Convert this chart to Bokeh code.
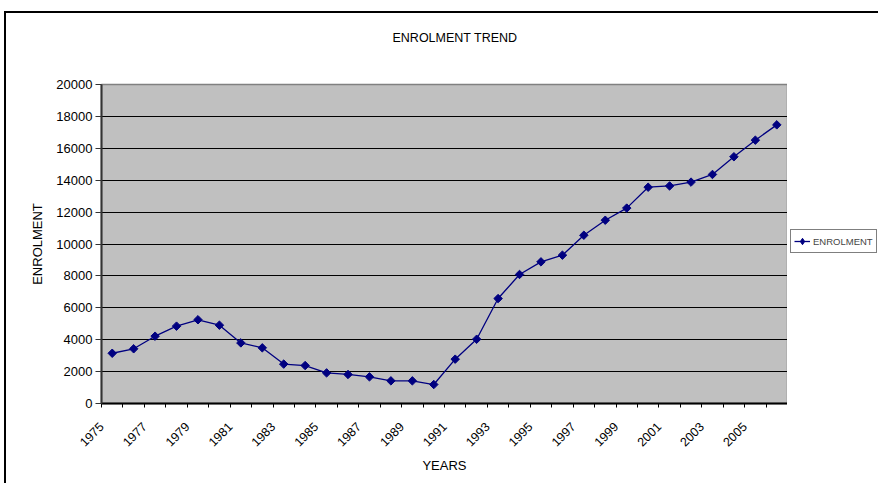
import math
from bokeh.plotting import figure
from bokeh.layouts import row
from bokeh.models import FixedTicker, Legend, LegendItem, Range1d, Title
from bokeh.embed import file_html
from bokeh.resources import INLINE

years = list(range(1975, 2007))
enrolment = [3150, 3430, 4220, 4850, 5250, 4910, 3800, 3490, 2470, 2380,
             1920, 1820, 1670, 1420, 1420, 1190, 2780, 4030, 6580, 8090,
             8880, 9300, 10550, 11490, 12250, 13560, 13640, 13880, 14360,
             15470, 16510, 17470]
y_ticks = list(range(0, 20001, 2000))
label_years = years[::2]
series_name = "ENROLMENT"
chart_title = "ENROLMENT TREND"

FONT = "Liberation Sans"
LINE_COLOR = "#000080"
xs = list(range(len(years)))

p = figure(width=783, height=472, output_backend="svg", toolbar_location=None,
           title=None,
           x_range=Range1d(-0.5, len(years) - 0.5), y_range=Range1d(0, 20000),
           min_border_left=95, min_border_right=2, min_border_top=71,
           min_border_bottom=82)
p.styles = {"border-top": "2px solid black", "border-left": "2px solid black",
            "margin-top": "11px", "margin-left": "4px"}

p.background_fill_color = "#C0C0C0"
p.border_fill_color = "white"
p.outline_line_color = "#808080"
p.outline_line_width = 1.5

# spacer between the plot area and the chart title
p.add_layout(Title(text=" ", text_font_size="1px", standoff=35), "above")
p.add_layout(Title(text=chart_title, align="left", offset=291,
                   text_font=FONT, text_font_size="12.5px",
                   text_font_style="normal", text_color="black", standoff=4),
             "above")

p.xgrid.grid_line_color = None
p.ygrid.grid_line_color = "black"
p.ygrid.grid_line_width = 1
p.ygrid.ticker = FixedTicker(ticks=y_ticks)

p.yaxis.ticker = FixedTicker(ticks=y_ticks)
p.yaxis.major_tick_out = 6
p.yaxis.major_tick_in = 0
p.yaxis.minor_tick_line_color = None
p.yaxis.axis_line_color = "#333333"
p.yaxis.axis_line_width = 2
p.yaxis.major_tick_line_color = "#333333"
p.yaxis.major_label_text_font = FONT
p.yaxis.major_label_text_font_size = "13px"
p.yaxis.major_label_text_color = "black"
p.yaxis.major_label_standoff = 3
p.yaxis.axis_label = series_name
p.yaxis.axis_label_text_font = FONT
p.yaxis.axis_label_text_font_size = "13px"
p.yaxis.axis_label_text_font_style = "normal"
p.yaxis.axis_label_text_color = "black"
p.yaxis.axis_label_standoff = 8

label_pos = [years.index(yv) - 0.5 for yv in label_years]
p.xaxis.ticker = FixedTicker(ticks=label_pos,
                             minor_ticks=[i - 0.5 for i in range(len(years) + 1)])
p.xaxis.major_label_overrides = {pos: str(yv) for pos, yv in zip(label_pos, label_years)}
p.xaxis.major_tick_line_color = None
p.xaxis.minor_tick_out = 4
p.xaxis.minor_tick_in = 0
p.xaxis.minor_tick_line_color = "black"
p.xaxis.axis_line_color = "black"
p.xaxis.axis_line_width = 2
p.xaxis.major_label_orientation = math.pi / 4
p.xaxis.major_label_text_font = FONT
p.xaxis.major_label_text_font_size = "12.5px"
p.xaxis.major_label_text_color = "black"
p.xaxis.major_label_standoff = 15
p.xaxis.axis_label = "YEARS"
p.xaxis.axis_label_text_font = FONT
p.xaxis.axis_label_text_font_size = "13px"
p.xaxis.axis_label_text_font_style = "normal"
p.xaxis.axis_label_text_color = "black"
p.xaxis.axis_label_standoff = 4

p.line(xs, enrolment, line_color=LINE_COLOR, line_width=1.3)
p.scatter(xs, enrolment, marker="square", angle=math.pi / 4, size=6,
          fill_color=LINE_COLOR, line_color=LINE_COLOR)

# legend panel to the right of the plot area (its series lies outside its ranges)
lg = figure(width=91, height=472, output_backend="svg", toolbar_location=None,
            title=None,
            x_range=Range1d(0, 1), y_range=Range1d(0, 1),
            x_axis_type=None, y_axis_type=None,
            min_border_left=0, min_border_right=0, min_border_top=0,
            min_border_bottom=0)
lg.styles = {"border-top": "2px solid black", "margin-top": "11px"}
lg.outline_line_color = None
lg.background_fill_color = "white"
lg.border_fill_color = "white"
lg.xgrid.visible = False
lg.ygrid.visible = False
l_ln = lg.line(xs, enrolment, line_color=LINE_COLOR, line_width=1.3)
l_mk = lg.scatter(xs, enrolment, marker="diamond", size=9,
                  fill_color=LINE_COLOR, line_color=LINE_COLOR)
legend = Legend(items=[LegendItem(label=series_name, renderers=[l_ln, l_mk])],
                location=(3, 150), orientation="vertical",
                border_line_color="black", border_line_width=1,
                background_fill_color="white", background_fill_alpha=1,
                label_text_font=FONT, label_text_font_size="9.5px",
                glyph_width=16, glyph_height=16, padding=3, margin=0,
                label_standoff=3, spacing=0)
lg.add_layout(legend, "center")

layout = row(p, lg, spacing=0)
open("out.html", "w").write(file_html(layout, INLINE))
